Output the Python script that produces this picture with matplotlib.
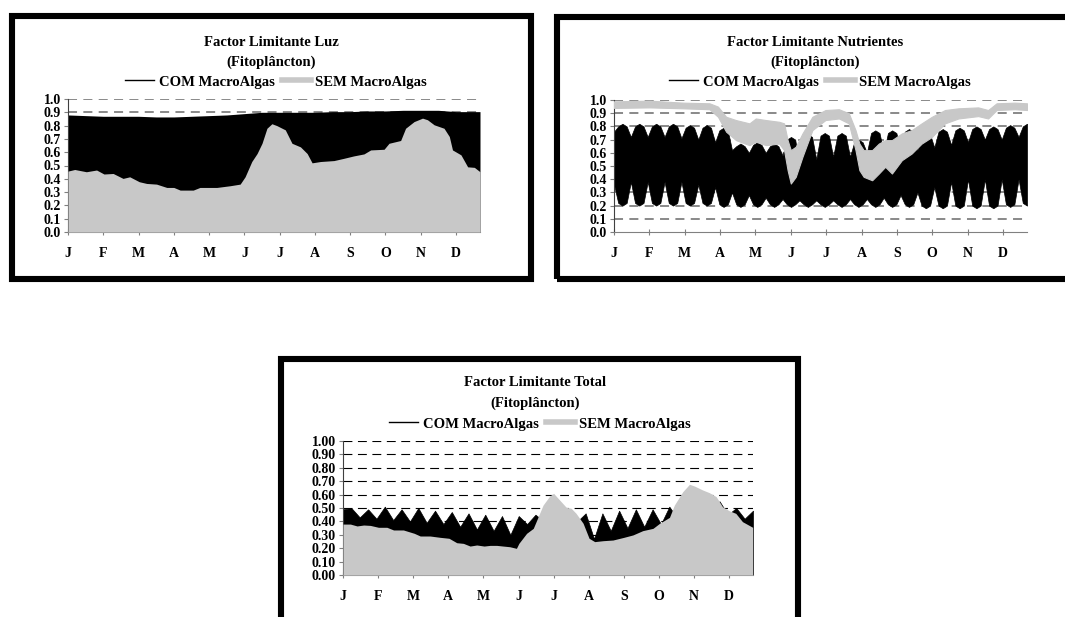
import numpy as np
import matplotlib.pyplot as plt
from matplotlib.patches import Rectangle
from matplotlib.lines import Line2D

plt.rcParams['font.family'] = ['Liberation Serif', 'DejaVu Serif']
plt.rcParams['font.weight'] = 'bold'

# eixo x em meses (0 = inicio de Janeiro)
meses = ['J', 'F', 'M', 'A', 'M', 'J', 'J', 'A', 'S', 'O', 'N', 'D']
x_fim = 11.68

# --- Factor limitante luz ---
luz_x = [0, 0.19, 0.52, 0.81, 1.02, 1.28, 1.56, 1.75, 2.02, 2.23, 2.51, 2.80, 3.0, 3.18,
         3.55, 3.74, 4.22, 4.6, 4.88, 5.02, 5.21, 5.36, 5.5, 5.64, 5.78, 5.92, 6.16, 6.35,
         6.59, 6.78, 6.92, 7.16, 7.54, 7.82, 8.1, 8.39, 8.58, 8.96, 9.1, 9.43, 9.57, 9.81,
         10.05, 10.19, 10.38, 10.66, 10.81, 10.9, 11.14, 11.33, 11.52, 11.68]
luz_sem = [0.458, 0.47, 0.453, 0.466, 0.436, 0.44, 0.403, 0.415, 0.378, 0.365, 0.36, 0.335,
           0.335, 0.315, 0.315, 0.335, 0.335, 0.348, 0.36, 0.415, 0.53, 0.59, 0.667, 0.78,
           0.814, 0.80, 0.768, 0.667, 0.64, 0.59, 0.52, 0.53, 0.537, 0.554, 0.572, 0.587,
           0.617, 0.622, 0.667, 0.688, 0.78, 0.83, 0.856, 0.844, 0.806, 0.78, 0.718, 0.617,
           0.58, 0.49, 0.486, 0.453]
luz_com_x = [0, 0.5, 1, 1.5, 2, 2.5, 3, 3.5, 4, 4.5, 5, 5.5, 6, 6.5, 7, 7.5, 8, 8.5, 9,
             9.5, 10, 10.5, 11, 11.68]
luz_com = [0.88, 0.875, 0.87, 0.87, 0.87, 0.865, 0.865, 0.87, 0.875, 0.88, 0.89, 0.9, 0.9,
           0.9, 0.9, 0.905, 0.905, 0.91, 0.91, 0.915, 0.915, 0.915, 0.905, 0.905]

# --- Factor limitante nutrientes (envolventes do ciclo quinzenal) ---
nut_x = np.linspace(0, x_fim, 99)
nut_com_max = [0.76, 0.80, 0.82, 0.80, 0.72, 0.80, 0.82, 0.80, 0.72, 0.80, 0.82, 0.80,
               0.72, 0.80, 0.82, 0.80, 0.71, 0.79, 0.81, 0.79, 0.70, 0.79, 0.81, 0.79,
               0.68, 0.77, 0.79, 0.77, 0.62, 0.65, 0.67, 0.65, 0.60, 0.66, 0.68, 0.66,
               0.60, 0.65, 0.67, 0.65, 0.58, 0.70, 0.72, 0.70, 0.50, 0.72, 0.74, 0.72,
               0.55, 0.73, 0.75, 0.73, 0.57, 0.73, 0.75, 0.73, 0.57, 0.68, 0.70, 0.68,
               0.60, 0.75, 0.77, 0.75, 0.60, 0.75, 0.77, 0.75, 0.62, 0.76, 0.78, 0.76,
               0.62, 0.74, 0.76, 0.74, 0.64, 0.76, 0.78, 0.76, 0.66, 0.77, 0.79, 0.77,
               0.68, 0.78, 0.80, 0.78, 0.70, 0.78, 0.80, 0.78, 0.70, 0.79, 0.81, 0.79,
               0.72, 0.80, 0.82]
nut_com_min = [0.36, 0.22, 0.20, 0.22, 0.38, 0.22, 0.20, 0.22, 0.38, 0.22, 0.20, 0.22,
               0.38, 0.22, 0.20, 0.22, 0.38, 0.22, 0.20, 0.22, 0.36, 0.22, 0.20, 0.22,
               0.34, 0.21, 0.19, 0.21, 0.30, 0.21, 0.19, 0.21, 0.28, 0.21, 0.19, 0.21,
               0.26, 0.21, 0.19, 0.21, 0.25, 0.21, 0.19, 0.21, 0.24, 0.21, 0.19, 0.21,
               0.24, 0.21, 0.19, 0.21, 0.24, 0.21, 0.19, 0.21, 0.25, 0.21, 0.19, 0.21,
               0.25, 0.21, 0.19, 0.21, 0.26, 0.21, 0.19, 0.21, 0.28, 0.21, 0.19, 0.21,
               0.30, 0.20, 0.18, 0.20, 0.34, 0.20, 0.18, 0.20, 0.38, 0.20, 0.18, 0.20,
               0.40, 0.20, 0.18, 0.20, 0.40, 0.20, 0.18, 0.20, 0.40, 0.21, 0.19, 0.21,
               0.40, 0.22, 0.20]
nut_sem_x = [0, 1.01, 1.95, 2.7, 2.94, 3.17, 3.45, 3.83, 4.01, 4.3, 4.67, 4.81, 4.91, 5.0,
             5.14, 5.33, 5.61, 5.98, 6.36, 6.64, 6.83, 6.94, 7.06, 7.3, 7.49, 7.67, 7.86,
             8.14, 8.42, 8.7, 8.99, 9.36, 9.74, 10.3, 10.58, 10.82, 11.33, 11.68]
nut_sem_max = [0.99, 0.995, 0.98, 0.975, 0.95, 0.873, 0.848, 0.823, 0.86, 0.848, 0.835,
               0.823, 0.696, 0.62, 0.646, 0.747, 0.873, 0.924, 0.93, 0.9, 0.772, 0.67, 0.62,
               0.62, 0.67, 0.696, 0.696, 0.747, 0.772, 0.823, 0.873, 0.924, 0.937, 0.944,
               0.924, 0.975, 0.98, 0.975]
nut_sem_min = [0.94, 0.944, 0.937, 0.93, 0.873, 0.76, 0.696, 0.658, 0.684, 0.658, 0.67,
               0.62, 0.468, 0.367, 0.418, 0.57, 0.772, 0.848, 0.86, 0.823, 0.62, 0.468,
               0.418, 0.392, 0.443, 0.494, 0.443, 0.544, 0.595, 0.67, 0.72, 0.823, 0.86,
               0.878, 0.86, 0.924, 0.93, 0.924]

# --- Factor limitante total ---
tot_com_x = np.linspace(0, x_fim, 50)
tot_com = [0.49, 0.50, 0.43, 0.49, 0.42, 0.51, 0.41, 0.49, 0.40, 0.50, 0.39, 0.48, 0.38,
           0.47, 0.36, 0.46, 0.34, 0.45, 0.33, 0.44, 0.30, 0.44, 0.38, 0.45, 0.40, 0.48,
           0.42, 0.48, 0.40, 0.46, 0.27, 0.46, 0.33, 0.48, 0.35, 0.49, 0.36, 0.49, 0.38,
           0.51, 0.42, 0.52, 0.50, 0.55, 0.50, 0.55, 0.45, 0.50, 0.42, 0.48]
tot_x = [0, 0.21, 0.40, 0.59, 0.78, 1.01, 1.25, 1.44, 1.72, 2.03, 2.20, 2.48, 2.77, 3.02,
         3.24, 3.43, 3.62, 3.81, 4.02, 4.19, 4.38, 4.56, 4.75, 4.94, 5.01, 5.23, 5.42, 5.56,
         5.70, 5.89, 6.0, 6.17, 6.36, 6.5, 6.64, 6.84, 7.01, 7.17, 7.41, 7.69, 8.0, 8.26,
         8.54, 8.83, 9.02, 9.3, 9.44, 9.68, 9.87, 10.01, 10.25, 10.44, 10.63, 10.81, 11.0,
         11.19, 11.38, 11.67]
tot_sem = [0.38, 0.38, 0.366, 0.373, 0.37, 0.356, 0.356, 0.336, 0.336, 0.311, 0.291, 0.291,
           0.281, 0.274, 0.241, 0.236, 0.216, 0.224, 0.216, 0.221, 0.221, 0.216, 0.211,
           0.199, 0.236, 0.311, 0.348, 0.435, 0.522, 0.59, 0.609, 0.56, 0.505, 0.498, 0.46,
           0.386, 0.274, 0.249, 0.256, 0.261, 0.281, 0.299, 0.331, 0.348, 0.386, 0.43,
           0.522, 0.622, 0.677, 0.664, 0.634, 0.614, 0.585, 0.51, 0.48, 0.46, 0.398, 0.356]

cinza = '#c8c8c8'
W, H = 1065, 617
fig = plt.figure(figsize=(W / 100, H / 100), dpi=100)


def fx(px):
    return px / W


def fy(py):
    return 1 - py / H


def moldura(x0, y0, x1, y1):
    fig.patches.append(Rectangle((fx(x0), fy(y1)), fx(x1 - x0), (y1 - y0) / H,
                                 transform=fig.transFigure, fill=False, lw=4.4,
                                 ec='black', zorder=0))


def eixo(left, right, top, bottom, yticks, fmt, grelha_cor, grelha_lw, dash):
    ax = fig.add_axes([fx(left), fy(bottom), fx(right - left), (bottom - top) / H])
    ax.set_xlim(0, x_fim)
    ax.set_ylim(0, 1.0)
    ax.set_xticks(range(12))
    ax.set_xticklabels(meses)
    ax.set_yticks(yticks)
    ax.set_yticklabels([fmt.format(v) for v in yticks])
    ax.tick_params(axis='x', length=4, direction='inout', pad=9, labelsize=10, color='#808080')
    ax.tick_params(axis='y', length=3, direction='out', pad=2, labelsize=10, color='#808080')
    for s in ['top', 'right']:
        ax.spines[s].set_visible(False)
    ax.spines['left'].set_color('#404040')
    ax.spines['bottom'].set_color('#808080')
    for v in yticks[1:]:
        ax.axhline(v, color=grelha_cor, lw=grelha_lw, ls=dash, zorder=0.5)
    ax.patch.set_alpha(0)
    return ax


def cabecalho(cx, y1, y2, yleg, titulo):
    fig.text(fx(cx), fy(y1), titulo, ha='center', va='center', fontsize=10.5)
    fig.text(fx(cx), fy(y2), '(Fitoplâncton)', ha='center', va='center', fontsize=10.5)
    h = [Line2D([], [], color='black', lw=1.0), Line2D([], [], color=cinza, lw=4)]
    fig.legend(h, ['COM MacroAlgas', 'SEM MacroAlgas'], loc='center',
               bbox_to_anchor=(fx(cx + 5), fy(yleg)), ncol=2, frameon=False,
               fontsize=10.5, handlelength=2.0, handletextpad=0.3, columnspacing=0.5,
               borderpad=0)


yt1 = [round(0.1 * i, 1) for i in range(11)]

# painel 1
moldura(12, 16, 531, 279)
ax1 = eixo(68, 480, 99, 232, yt1, '{:.1f}', '#808080', 1.3, (0, (5, 3.5)))
ax1.fill_between(luz_com_x, 0, luz_com, color='black', lw=0, zorder=2)
ax1.fill_between(luz_x, 0, luz_sem, color=cinza, lw=0, zorder=3)
cabecalho(271, 42, 62, 82, 'Factor Limitante Luz')

# painel 2
moldura(557, 16.5, 1075, 278.5)
ax2 = eixo(614, 1027, 100, 232, yt1, '{:.1f}', '#808080', 1.3, (0, (5, 3.5)))
ax2.fill_between(nut_x, nut_com_min, nut_com_max, color='black', lw=0.5, zorder=2)
ax2.fill_between(nut_sem_x, nut_sem_min, nut_sem_max, color=cinza, lw=0.8, ec=cinza, zorder=3)
cabecalho(815, 42, 62, 82, 'Factor Limitante Nutrientes')

# painel 3
moldura(281, 359, 798, 630)
ax3 = eixo(343, 753, 441, 575, yt1, '{:.2f}', 'black', 0.8, (0, (8, 5)))
ax3.fill_between(tot_com_x, 0, tot_com, color='black', lw=0.5, zorder=2)
ax3.fill_between(tot_x, 0, tot_sem, color=cinza, lw=0, zorder=3)
cabecalho(535, 383, 403, 424, 'Factor Limitante Total')

fig.savefig('out.png', dpi=100)
